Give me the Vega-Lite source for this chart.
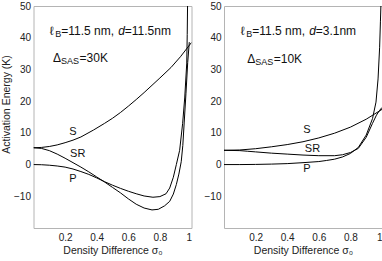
{
  "$schema": "https://vega.github.io/schema/vega-lite/v6.json",
  "padding": {"left": 0.5, "top": 0, "right": 2, "bottom": 0},
  "bounds": "flush",
  "spacing": 32.5,
  "config": {
    "font": "Liberation Sans",
    "view": {"stroke": "#b4b4b4", "strokeWidth": 1},
    "axis": {"domain": false, "grid": false, "ticks": false, "labelFont": "Liberation Sans", "labelFontSize": 10, "labelColor": "#222", "titleFont": "Liberation Sans", "titleFontSize": 10.5, "titleFontWeight": "normal", "titleColor": "#222"},
    "line": {"color": "black", "strokeWidth": 1},
    "text": {"font": "Liberation Sans", "color": "#111"}
  },
  "datasets": {
    "curves": [
      {"panel": "L", "curve": "S", "sigma": 0, "E": 5.3},
      {"panel": "L", "curve": "S", "sigma": 0.05, "E": 5.4},
      {"panel": "L", "curve": "S", "sigma": 0.1, "E": 5.7},
      {"panel": "L", "curve": "S", "sigma": 0.15, "E": 6.2},
      {"panel": "L", "curve": "S", "sigma": 0.2, "E": 6.9},
      {"panel": "L", "curve": "S", "sigma": 0.25, "E": 7.7},
      {"panel": "L", "curve": "S", "sigma": 0.3, "E": 8.7},
      {"panel": "L", "curve": "S", "sigma": 0.38, "E": 10.9},
      {"panel": "L", "curve": "S", "sigma": 0.45, "E": 13},
      {"panel": "L", "curve": "S", "sigma": 0.5, "E": 14.6},
      {"panel": "L", "curve": "S", "sigma": 0.55, "E": 16.4},
      {"panel": "L", "curve": "S", "sigma": 0.6, "E": 18.4},
      {"panel": "L", "curve": "S", "sigma": 0.65, "E": 20.5},
      {"panel": "L", "curve": "S", "sigma": 0.7, "E": 22.7},
      {"panel": "L", "curve": "S", "sigma": 0.75, "E": 25},
      {"panel": "L", "curve": "S", "sigma": 0.8, "E": 27.3},
      {"panel": "L", "curve": "S", "sigma": 0.87, "E": 30.6},
      {"panel": "L", "curve": "S", "sigma": 0.93, "E": 34},
      {"panel": "L", "curve": "S", "sigma": 1.0, "E": 38.5},
      {"panel": "L", "curve": "SR", "sigma": 0, "E": 5.3},
      {"panel": "L", "curve": "SR", "sigma": 0.05, "E": 5.1},
      {"panel": "L", "curve": "SR", "sigma": 0.1, "E": 4.4},
      {"panel": "L", "curve": "SR", "sigma": 0.15, "E": 3.3},
      {"panel": "L", "curve": "SR", "sigma": 0.2, "E": 2},
      {"panel": "L", "curve": "SR", "sigma": 0.25, "E": 0.6},
      {"panel": "L", "curve": "SR", "sigma": 0.3, "E": -0.8},
      {"panel": "L", "curve": "SR", "sigma": 0.35, "E": -2.3},
      {"panel": "L", "curve": "SR", "sigma": 0.4, "E": -3.9},
      {"panel": "L", "curve": "SR", "sigma": 0.45, "E": -5.5},
      {"panel": "L", "curve": "SR", "sigma": 0.5, "E": -7.2},
      {"panel": "L", "curve": "SR", "sigma": 0.55, "E": -8.9},
      {"panel": "L", "curve": "SR", "sigma": 0.6, "E": -10.8},
      {"panel": "L", "curve": "SR", "sigma": 0.65, "E": -12.5},
      {"panel": "L", "curve": "SR", "sigma": 0.7, "E": -13.7},
      {"panel": "L", "curve": "SR", "sigma": 0.75, "E": -14.3},
      {"panel": "L", "curve": "SR", "sigma": 0.79, "E": -14.1},
      {"panel": "L", "curve": "SR", "sigma": 0.83, "E": -13},
      {"panel": "L", "curve": "SR", "sigma": 0.862, "E": -11.6},
      {"panel": "L", "curve": "SR", "sigma": 0.885, "E": -9.3},
      {"panel": "L", "curve": "SR", "sigma": 0.904, "E": -6.3},
      {"panel": "L", "curve": "SR", "sigma": 0.92, "E": -3},
      {"panel": "L", "curve": "SR", "sigma": 0.935, "E": 0.9},
      {"panel": "L", "curve": "SR", "sigma": 0.945, "E": 6},
      {"panel": "L", "curve": "SR", "sigma": 0.954, "E": 13.4},
      {"panel": "L", "curve": "SR", "sigma": 0.965, "E": 22.5},
      {"panel": "L", "curve": "SR", "sigma": 0.976, "E": 32.2},
      {"panel": "L", "curve": "SR", "sigma": 0.986, "E": 38.6},
      {"panel": "L", "curve": "P", "sigma": 0, "E": 0},
      {"panel": "L", "curve": "P", "sigma": 0.05, "E": -0.05},
      {"panel": "L", "curve": "P", "sigma": 0.1, "E": -0.2},
      {"panel": "L", "curve": "P", "sigma": 0.15, "E": -0.45},
      {"panel": "L", "curve": "P", "sigma": 0.2, "E": -0.8},
      {"panel": "L", "curve": "P", "sigma": 0.25, "E": -1.4},
      {"panel": "L", "curve": "P", "sigma": 0.3, "E": -2.2},
      {"panel": "L", "curve": "P", "sigma": 0.35, "E": -3.1},
      {"panel": "L", "curve": "P", "sigma": 0.4, "E": -4.2},
      {"panel": "L", "curve": "P", "sigma": 0.45, "E": -5.4},
      {"panel": "L", "curve": "P", "sigma": 0.5, "E": -6.5},
      {"panel": "L", "curve": "P", "sigma": 0.55, "E": -7.5},
      {"panel": "L", "curve": "P", "sigma": 0.6, "E": -8.4},
      {"panel": "L", "curve": "P", "sigma": 0.65, "E": -9.2},
      {"panel": "L", "curve": "P", "sigma": 0.7, "E": -9.9},
      {"panel": "L", "curve": "P", "sigma": 0.756, "E": -10.3},
      {"panel": "L", "curve": "P", "sigma": 0.8, "E": -10.1},
      {"panel": "L", "curve": "P", "sigma": 0.839, "E": -9.2},
      {"panel": "L", "curve": "P", "sigma": 0.862, "E": -7.4},
      {"panel": "L", "curve": "P", "sigma": 0.885, "E": -4},
      {"panel": "L", "curve": "P", "sigma": 0.904, "E": 0},
      {"panel": "L", "curve": "P", "sigma": 0.925, "E": 4.5},
      {"panel": "L", "curve": "P", "sigma": 0.944, "E": 13},
      {"panel": "L", "curve": "P", "sigma": 0.957, "E": 21},
      {"panel": "L", "curve": "P", "sigma": 0.97, "E": 32},
      {"panel": "L", "curve": "P", "sigma": 0.973, "E": 41},
      {"panel": "L", "curve": "P", "sigma": 0.975, "E": 50},
      {"panel": "R", "curve": "S", "sigma": 0, "E": 4.5},
      {"panel": "R", "curve": "S", "sigma": 0.1, "E": 4.6},
      {"panel": "R", "curve": "S", "sigma": 0.2, "E": 5},
      {"panel": "R", "curve": "S", "sigma": 0.3, "E": 5.6},
      {"panel": "R", "curve": "S", "sigma": 0.4, "E": 6.3},
      {"panel": "R", "curve": "S", "sigma": 0.5, "E": 7.2},
      {"panel": "R", "curve": "S", "sigma": 0.6, "E": 8.4},
      {"panel": "R", "curve": "S", "sigma": 0.7, "E": 9.9},
      {"panel": "R", "curve": "S", "sigma": 0.8, "E": 11.8},
      {"panel": "R", "curve": "S", "sigma": 0.9, "E": 14.3},
      {"panel": "R", "curve": "S", "sigma": 1.0, "E": 17.4},
      {"panel": "R", "curve": "SR", "sigma": 0, "E": 4.5},
      {"panel": "R", "curve": "SR", "sigma": 0.1, "E": 4.4},
      {"panel": "R", "curve": "SR", "sigma": 0.15, "E": 4.2},
      {"panel": "R", "curve": "SR", "sigma": 0.2, "E": 4.0},
      {"panel": "R", "curve": "SR", "sigma": 0.3, "E": 3.6},
      {"panel": "R", "curve": "SR", "sigma": 0.4, "E": 3.3},
      {"panel": "R", "curve": "SR", "sigma": 0.5, "E": 3.0},
      {"panel": "R", "curve": "SR", "sigma": 0.6, "E": 2.8},
      {"panel": "R", "curve": "SR", "sigma": 0.7, "E": 2.8},
      {"panel": "R", "curve": "SR", "sigma": 0.75, "E": 3.1},
      {"panel": "R", "curve": "SR", "sigma": 0.8, "E": 3.8},
      {"panel": "R", "curve": "SR", "sigma": 0.85, "E": 5.1},
      {"panel": "R", "curve": "SR", "sigma": 0.9, "E": 8.6},
      {"panel": "R", "curve": "SR", "sigma": 0.94, "E": 13},
      {"panel": "R", "curve": "SR", "sigma": 0.965, "E": 15.6},
      {"panel": "R", "curve": "SR", "sigma": 0.985, "E": 17.1},
      {"panel": "R", "curve": "SR", "sigma": 1.0, "E": 18},
      {"panel": "R", "curve": "P", "sigma": 0, "E": 0},
      {"panel": "R", "curve": "P", "sigma": 0.1, "E": 0},
      {"panel": "R", "curve": "P", "sigma": 0.2, "E": 0.05},
      {"panel": "R", "curve": "P", "sigma": 0.3, "E": 0.15},
      {"panel": "R", "curve": "P", "sigma": 0.4, "E": 0.3},
      {"panel": "R", "curve": "P", "sigma": 0.5, "E": 0.6},
      {"panel": "R", "curve": "P", "sigma": 0.6, "E": 0.95},
      {"panel": "R", "curve": "P", "sigma": 0.65, "E": 1.3},
      {"panel": "R", "curve": "P", "sigma": 0.7, "E": 1.7},
      {"panel": "R", "curve": "P", "sigma": 0.75, "E": 2.4},
      {"panel": "R", "curve": "P", "sigma": 0.8, "E": 3.5},
      {"panel": "R", "curve": "P", "sigma": 0.85, "E": 5.4},
      {"panel": "R", "curve": "P", "sigma": 0.9, "E": 9.3},
      {"panel": "R", "curve": "P", "sigma": 0.94, "E": 14.5},
      {"panel": "R", "curve": "P", "sigma": 0.962, "E": 19.7},
      {"panel": "R", "curve": "P", "sigma": 0.975, "E": 27},
      {"panel": "R", "curve": "P", "sigma": 0.985, "E": 37},
      {"panel": "R", "curve": "P", "sigma": 0.99, "E": 45},
      {"panel": "R", "curve": "P", "sigma": 0.993, "E": 50}
    ],
    "labels": [
      {"panel": "L", "text": "S", "sigma": 0.25, "E": 10.3},
      {"panel": "L", "text": "SR", "sigma": 0.28, "E": 3.4},
      {"panel": "L", "text": "P", "sigma": 0.25, "E": -4.4},
      {"panel": "R", "text": "S", "sigma": 0.525, "E": 11},
      {"panel": "R", "text": "SR", "sigma": 0.56, "E": 5},
      {"panel": "R", "text": "P", "sigma": 0.525, "E": -1.3}
    ],
    "notes": [
      {"panel": "L", "piece": "ell", "text": "ℓ", "sigma": 0.103, "E": 42.2},
      {"panel": "L", "piece": "sub1", "text": "B", "sigma": 0.103, "E": 42.2},
      {"panel": "L", "piece": "mid1", "text": "=11.5 nm,", "sigma": 0.103, "E": 42.2},
      {"panel": "L", "piece": "d", "text": "d", "sigma": 0.103, "E": 42.2},
      {"panel": "L", "piece": "end1", "text": "=11.5nm", "sigma": 0.103, "E": 42.2},
      {"panel": "L", "piece": "delta", "text": "Δ", "sigma": 0.124, "E": 33.7},
      {"panel": "L", "piece": "sub2", "text": "SAS", "sigma": 0.124, "E": 33.7},
      {"panel": "L", "piece": "end2", "text": "=30K", "sigma": 0.124, "E": 33.7},
      {"panel": "R", "piece": "ell", "text": "ℓ", "sigma": 0.106, "E": 42.2},
      {"panel": "R", "piece": "sub1", "text": "B", "sigma": 0.106, "E": 42.2},
      {"panel": "R", "piece": "mid1", "text": "=11.5 nm,", "sigma": 0.106, "E": 42.2},
      {"panel": "R", "piece": "d", "text": "d", "sigma": 0.106, "E": 42.2},
      {"panel": "R", "piece": "end1", "text": "=3.1nm", "sigma": 0.106, "E": 42.2},
      {"panel": "R", "piece": "delta", "text": "Δ", "sigma": 0.147, "E": 33.2},
      {"panel": "R", "piece": "sub2", "text": "SAS", "sigma": 0.147, "E": 33.2},
      {"panel": "R", "piece": "end2", "text": "=10K", "sigma": 0.147, "E": 33.2}
    ]
  },
  "hconcat": [
    {
      "width": 158,
      "height": 222,
      "encoding": {
        "x": {"field": "sigma", "type": "quantitative", "scale": {"domain": [0, 1], "nice": false, "zero": false},
              "axis": {"values": [0.2, 0.4, 0.6, 0.8, 1], "labelExpr": "datum.value == 1 ? '1' : format(datum.value, '.1f')", "title": "Density Difference  σ₀", "labelPadding": 4, "titlePadding": 3}},
        "y": {"field": "E", "type": "quantitative", "scale": {"domain": [-20, 50], "nice": false, "zero": false},
              "axis": {"values": [-10, 0, 10, 20, 30, 40, 50], "title": "Activation Energy (K)", "labelPadding": 3, "titlePadding": 2, "titleY": 98}}
      },
      "layer": [
        {"data": {"name": "curves"}, "transform": [{"filter": "datum.panel == 'L'"}], "mark": {"type": "line", "clip": true}, "encoding": {"detail": {"field": "curve"}}},
        {"data": {"name": "labels"}, "transform": [{"filter": "datum.panel == 'L'"}], "mark": {"type": "text", "fontSize": 11}, "encoding": {"text": {"field": "text"}}},
        {"data": {"name": "notes"}, "transform": [{"filter": "datum.panel == 'L' && datum.piece == 'ell'"}], "mark": {"type": "text", "fontSize": 12, "align": "left", "baseline": "middle", "dx": 0}, "encoding": {"text": {"field": "text"}}},
        {"data": {"name": "notes"}, "transform": [{"filter": "datum.panel == 'L' && datum.piece == 'sub1'"}], "mark": {"type": "text", "fontSize": 9, "align": "left", "baseline": "middle", "dx": 5.5, "dy": 3}, "encoding": {"text": {"field": "text"}}},
        {"data": {"name": "notes"}, "transform": [{"filter": "datum.panel == 'L' && datum.piece == 'mid1'"}], "mark": {"type": "text", "fontSize": 12, "align": "left", "baseline": "middle", "dx": 11.5}, "encoding": {"text": {"field": "text"}}},
        {"data": {"name": "notes"}, "transform": [{"filter": "datum.panel == 'L' && datum.piece == 'd'"}], "mark": {"type": "text", "fontSize": 12, "fontStyle": "italic", "align": "left", "baseline": "middle", "dx": 68.5}, "encoding": {"text": {"field": "text"}}},
        {"data": {"name": "notes"}, "transform": [{"filter": "datum.panel == 'L' && datum.piece == 'end1'"}], "mark": {"type": "text", "fontSize": 12, "align": "left", "baseline": "middle", "dx": 75}, "encoding": {"text": {"field": "text"}}},
        {"data": {"name": "notes"}, "transform": [{"filter": "datum.panel == 'L' && datum.piece == 'delta'"}], "mark": {"type": "text", "fontSize": 12, "align": "left", "baseline": "middle", "dx": 0}, "encoding": {"text": {"field": "text"}}},
        {"data": {"name": "notes"}, "transform": [{"filter": "datum.panel == 'L' && datum.piece == 'sub2'"}], "mark": {"type": "text", "fontSize": 9, "align": "left", "baseline": "middle", "dx": 8, "dy": 3}, "encoding": {"text": {"field": "text"}}},
        {"data": {"name": "notes"}, "transform": [{"filter": "datum.panel == 'L' && datum.piece == 'end2'"}], "mark": {"type": "text", "fontSize": 12, "align": "left", "baseline": "middle", "dx": 26.5}, "encoding": {"text": {"field": "text"}}}
      ]
    },
    {
      "width": 158,
      "height": 222,
      "encoding": {
        "x": {"field": "sigma", "type": "quantitative", "scale": {"domain": [0, 1], "nice": false, "zero": false},
              "axis": {"values": [0.2, 0.4, 0.6, 0.8, 1], "labelExpr": "datum.value == 1 ? '1' : format(datum.value, '.1f')", "title": "Density Difference  σ₀", "labelPadding": 4, "titlePadding": 3}},
        "y": {"field": "E", "type": "quantitative", "scale": {"domain": [-20, 50], "nice": false, "zero": false},
              "axis": {"values": [-10, 0, 10, 20, 30, 40, 50], "title": null, "labelPadding": 3}}
      },
      "layer": [
        {"data": {"name": "curves"}, "transform": [{"filter": "datum.panel == 'R'"}], "mark": {"type": "line", "clip": true}, "encoding": {"detail": {"field": "curve"}}},
        {"data": {"name": "labels"}, "transform": [{"filter": "datum.panel == 'R'"}], "mark": {"type": "text", "fontSize": 11}, "encoding": {"text": {"field": "text"}}},
        {"data": {"name": "notes"}, "transform": [{"filter": "datum.panel == 'R' && datum.piece == 'ell'"}], "mark": {"type": "text", "fontSize": 12, "align": "left", "baseline": "middle", "dx": 0}, "encoding": {"text": {"field": "text"}}},
        {"data": {"name": "notes"}, "transform": [{"filter": "datum.panel == 'R' && datum.piece == 'sub1'"}], "mark": {"type": "text", "fontSize": 9, "align": "left", "baseline": "middle", "dx": 5.5, "dy": 3}, "encoding": {"text": {"field": "text"}}},
        {"data": {"name": "notes"}, "transform": [{"filter": "datum.panel == 'R' && datum.piece == 'mid1'"}], "mark": {"type": "text", "fontSize": 12, "align": "left", "baseline": "middle", "dx": 11.5}, "encoding": {"text": {"field": "text"}}},
        {"data": {"name": "notes"}, "transform": [{"filter": "datum.panel == 'R' && datum.piece == 'd'"}], "mark": {"type": "text", "fontSize": 12, "fontStyle": "italic", "align": "left", "baseline": "middle", "dx": 68.5}, "encoding": {"text": {"field": "text"}}},
        {"data": {"name": "notes"}, "transform": [{"filter": "datum.panel == 'R' && datum.piece == 'end1'"}], "mark": {"type": "text", "fontSize": 12, "align": "left", "baseline": "middle", "dx": 75}, "encoding": {"text": {"field": "text"}}},
        {"data": {"name": "notes"}, "transform": [{"filter": "datum.panel == 'R' && datum.piece == 'delta'"}], "mark": {"type": "text", "fontSize": 12, "align": "left", "baseline": "middle", "dx": 0}, "encoding": {"text": {"field": "text"}}},
        {"data": {"name": "notes"}, "transform": [{"filter": "datum.panel == 'R' && datum.piece == 'sub2'"}], "mark": {"type": "text", "fontSize": 9, "align": "left", "baseline": "middle", "dx": 8, "dy": 3}, "encoding": {"text": {"field": "text"}}},
        {"data": {"name": "notes"}, "transform": [{"filter": "datum.panel == 'R' && datum.piece == 'end2'"}], "mark": {"type": "text", "fontSize": 12, "align": "left", "baseline": "middle", "dx": 26.5}, "encoding": {"text": {"field": "text"}}}
      ]
    }
  ]
}
